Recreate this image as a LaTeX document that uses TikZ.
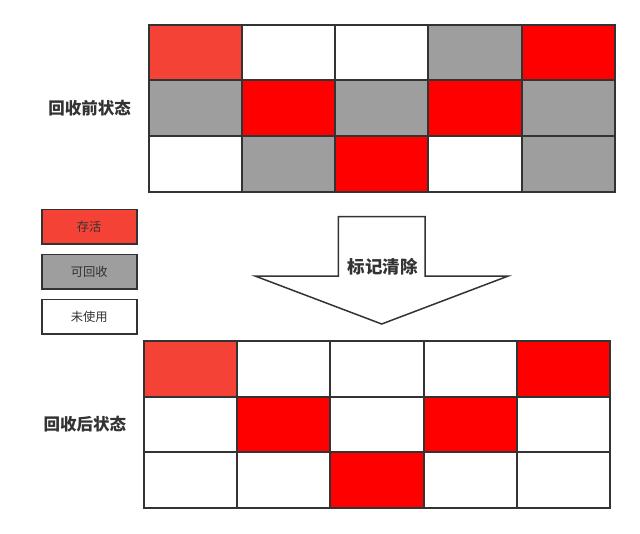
\documentclass[tikz,border=0pt]{standalone}
\usepackage{fontspec}
\setmainfont{Noto Sans CJK SC}
\usetikzlibrary{positioning}
\definecolor{softred}{HTML}{F44336}
\definecolor{live}{HTML}{FF0000}
\definecolor{reclaim}{HTML}{9E9E9E}
\definecolor{edge}{HTML}{333333}

\begin{document}
\begin{tikzpicture}[x=1pt, y=-1pt,
        cell/.style={draw=edge, line width=2pt, minimum width=93.3pt, minimum height=55.6pt, inner sep=0pt},
        legend/.style={draw=edge, line width=1.6pt, minimum width=95pt, minimum height=34.5pt, inner sep=0pt, font=\fontsize{12.3}{12.3}\selectfont, text=edge},
        state/.style={font=\fontsize{16.5}{16.5}\selectfont\bfseries, text=edge}
    ]
    \useasboundingbox (0,0) rectangle (640,533);
    % before collection
    \foreach \row/\cols in {1/{softred,white,white,reclaim,live}, 2/{reclaim,live,reclaim,live,reclaim}, 3/{white,reclaim,live,white,reclaim}}
        \foreach \f [count=\j] in \cols
            \node[cell, fill=\f] (t-\row-\j) at ({148.5+93.3*(\j-0.5)}, {24.5+55.7*(\row-0.5)}) {};
    \node[state, left=13pt of t-2-1.west] (before) {回收前状态};
    % after collection
    \foreach \row/\cols in {1/{softred,white,white,white,live}, 2/{white,live,white,live,white}, 3/{white,white,live,white,white}}
        \foreach \f [count=\j] in \cols
            \node[cell, fill=\f] (b-\row-\j) at ({143.5+93.4*(\j-0.5)}, {341+55.6*(\row-0.5)}) {};
    \node[state, left=13pt of b-2-1.west] (after) {回收后状态};
    % legend
    \node[legend, fill=softred] (alive) at (89.2,226.7) {存活};
    \node[legend, fill=reclaim, below=9pt of alive] (garbage) {可回收};
    \node[legend, fill=white, below=9pt of garbage] (unused) {未使用};
    % mark-sweep arrow
    \draw[draw=edge, line width=1.5pt, line join=miter]
        (338.3,216.7) -- (425,216.7) -- (425,276) -- (508.3,276) -- (381.7,324)
        -- (255,276) -- (338.3,276) -- cycle;
    \node[font=\fontsize{17.5}{17.5}\selectfont\bfseries, text=edge] (sweep) at (382.5,266.5) {标记清除};
\end{tikzpicture}
\end{document}
